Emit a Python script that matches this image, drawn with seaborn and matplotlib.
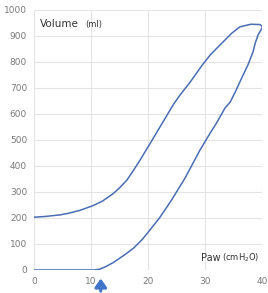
import numpy as np
import pandas as pd
import matplotlib
matplotlib.use('Agg')
import matplotlib.pyplot as plt
import seaborn as sns

# =====================
# Data (pressure-volume loop)
# =====================
insp_paw = [0, 5, 10.5, 11.5, 12.5, 14, 16, 17.5, 19, 20, 22, 24, 26.5, 29.1,
            30.9, 32, 33.5, 34.4, 35.3, 36.5, 37.5, 38.4, 38.8, 39.3, 40]
insp_vol = [0, 0, 0, 3, 12, 30, 60, 85, 118, 145, 200, 265, 354, 461,
            527, 565, 623, 646, 685, 742, 788, 838, 873, 904, 931]

exp_paw = [40, 39.6, 38, 36.1, 34.7, 32.6, 30.9, 29.5, 27.4, 25.6, 24.4, 22.6,
           20.4, 18.6, 17.4, 16.3, 15, 13.9, 12, 10.4, 8, 6, 4.6, 2, 0]
exp_vol = [938, 944, 945, 935, 911, 865, 827, 788, 723, 673, 635, 569,
           488, 423, 382, 346, 316, 294, 265, 248, 229, 218, 212, 206, 203]

x_ticks = [0, 10, 20, 30, 40]
y_ticks = list(range(0, 1001, 100))

df = pd.DataFrame({
    'Paw': insp_paw + exp_paw,
    'Volume': insp_vol + exp_vol,
})

# =====================
# Plot
# =====================
sns.set_style('white')
plt.rcParams['font.family'] = ['DejaVu Sans']

fig = plt.figure(figsize=(2.68, 2.93), dpi=100)
ax = fig.add_axes([0.127, 0.0785, 0.851, 0.8875])

sns.lineplot(data=df, x='Paw', y='Volume', sort=False, estimator=None,
             color='#4a6db3', linewidth=1.1, ax=ax)

ax.set_xlim(0, 40)
ax.set_ylim(0, 1000)
ax.set_xticks(x_ticks)
ax.set_yticks(y_ticks)
ax.grid(True, color='#e4e4e4', linewidth=0.8)
for s in ax.spines.values():
    s.set_visible(False)
ax.tick_params(axis='both', length=0, labelsize=6.5, colors='#7a7a7a', pad=5)
ax.set_xlabel('')
ax.set_ylabel('')

ax.text(1.1, 945, 'Volume', fontsize=7.5, color='#333333', va='center')
ax.text(8.9, 943, '(ml)', fontsize=6, color='#333333', va='center')
ax.text(29.3, 48, 'Paw', fontsize=7, color='#333333', va='center')
ax.text(33.0, 46, '(cmH$_2$O)', fontsize=6, color='#333333', va='center')

ax.annotate('', xy=(11.7, -22), xytext=(11.7, -92),
            arrowprops=dict(arrowstyle='-|>,head_width=0.35,head_length=0.5',
                            color='#3f74c9', linewidth=2.2),
            annotation_clip=False)

fig.savefig('out.png', dpi=100)
